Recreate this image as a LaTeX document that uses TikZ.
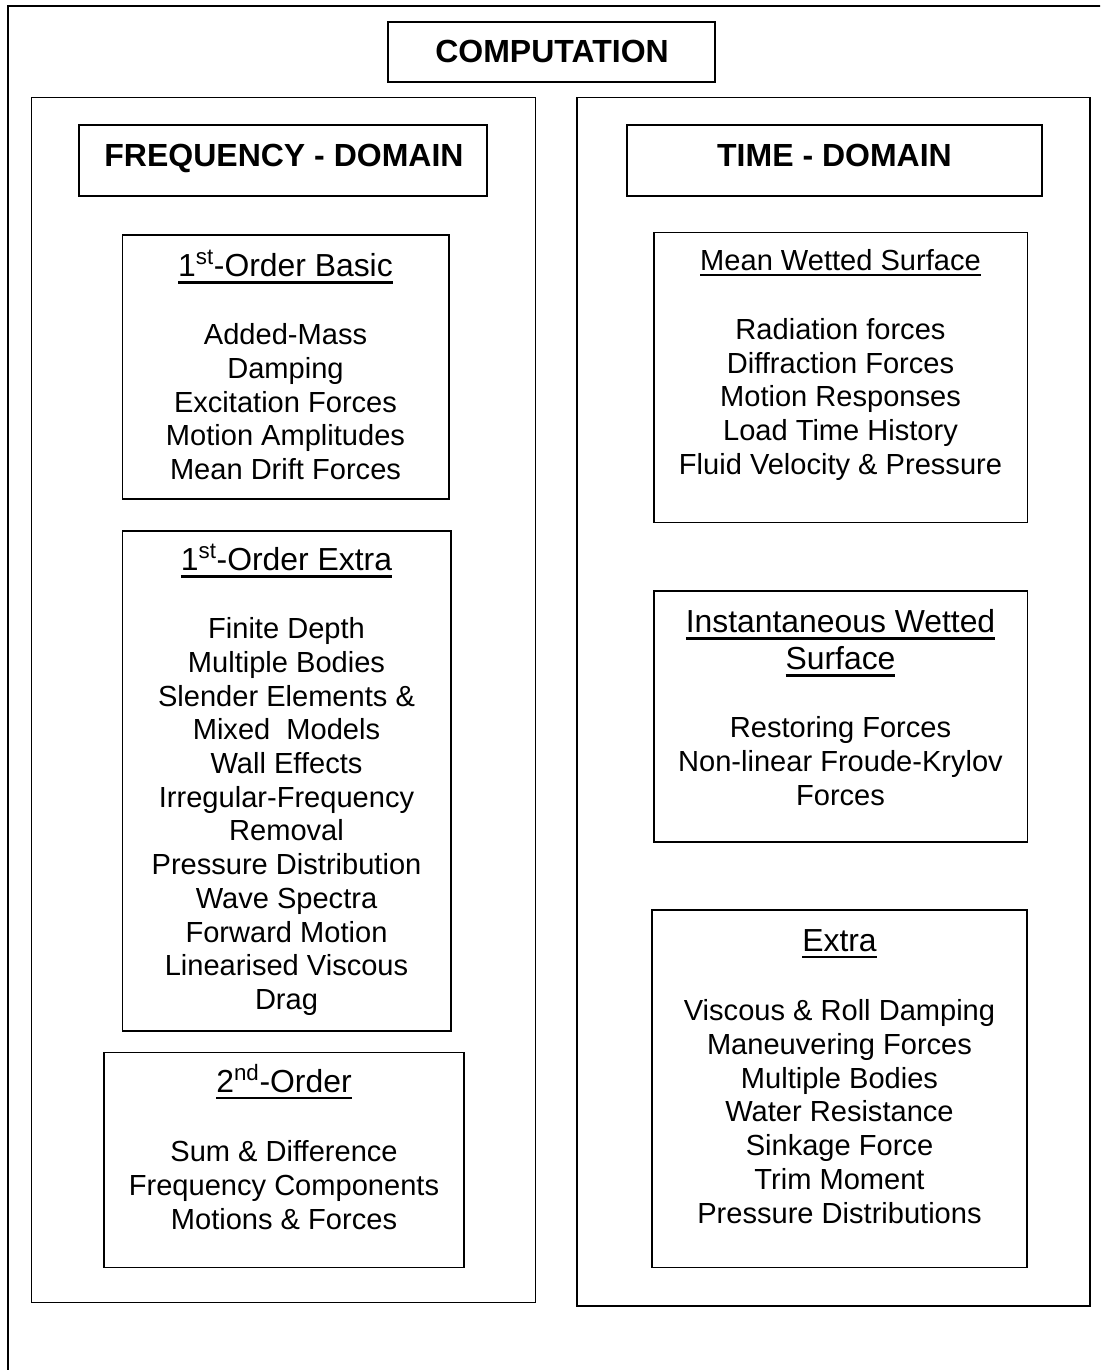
\documentclass[tikz,border=0pt]{standalone}
\usepackage{fontspec}
\setmainfont{Liberation Sans}
\usetikzlibrary{fit}
% underline drawn as a rule a little below the baseline
\newcommand{\undl}[1]{\setbox0\hbox{#1}\leavevmode\rlap{\rule[-0.22em]{\wd0}{0.075em}}\box0}
% fixes the height of the first line of a block
\newcommand{\tstrut}{\rule{0pt}{0.75em}}
\begin{document}
\begin{tikzpicture}[x=0.75pt,y=-0.75pt,
  frame/.style={draw=black,line width=1.4pt,inner sep=0pt},
  title/.style={font=\bfseries\fontsize{24}{27.6}\selectfont,inner sep=0pt,anchor=base},
  subhead/.style={font=\fontsize{23.9}{27.75}\selectfont,inner sep=0pt,anchor=base,align=center},
  subsmall/.style={font=\fontsize{21.8}{25.3}\selectfont,inner sep=0pt,anchor=base},
  body/.style={font=\fontsize{21.8}{25.3}\selectfont,inner sep=0pt,anchor=north,align=center}]
\useasboundingbox (0,0) rectangle (1100,1370);
\clip (0,0) rectangle (1100,1370);
\fill[white] (0,0) rectangle (1100,1370);

% frames
\node[frame,fit={(8.3,6.2) (1130,1400)}] (outer) {};
\node[frame,fit={(388.3,21.7) (715,81.7)}] (comp) {};
\node[frame,fit={(31.5,97.5) (535.5,1302.5)}] (leftcol) {};
\node[frame,fit={(576.8,97.5) (1090.3,1305.8)}] (rightcol) {};
\node[frame,fit={(79,125) (487,196)}] (freqbox) {};
\node[frame,fit={(627,125) (1042,196)}] (timebox) {};
\node[frame,fit={(122.5,235) (449,499)}] (basic) {};
\node[frame,fit={(122.5,531) (451,1031)}] (extra) {};
\node[frame,fit={(104.2,1052.5) (463.7,1267.5)}] (second) {};
\node[frame,fit={(654,232.5) (1027.5,522.5)}] (mean) {};
\node[frame,fit={(654,591) (1027.5,842)}] (inst) {};
\node[frame,fit={(652,910) (1026.8,1267.5)}] (xtra) {};

% titles
\node[title] (comptxt) at (552,63) {COMPUTATION};
\node[title] (freqtxt) at (284,166.5) {FREQUENCY - DOMAIN};
\node[title] (timetxt) at (834.5,166.5) {TIME - DOMAIN};

% frequency-domain blocks
\node[subhead] (basichd) at (285.5,276.7) {\undl{1\textsuperscript{st}-Order Basic}};
\node[body] (basicbd) at (285.5,322.7) {\tstrut Added-Mass\\Damping\\Excitation Forces\\Motion Amplitudes\\Mean Drift Forces};

\node[subhead] (extrahd) at (286.5,570.7) {\undl{1\textsuperscript{st}-Order Extra}};
\node[body] (extrabd) at (286.5,616.5) {\tstrut Finite Depth\\Multiple Bodies\\Slender Elements \&\\Mixed~ Models\\Wall Effects\\Irregular-Frequency\\Removal\\Pressure Distribution\\Wave Spectra\\Forward Motion\\Linearised Viscous\\Drag};

\node[subhead] (secondhd) at (284,1092.3) {\undl{2\textsuperscript{nd}-Order}};
\node[body] (secondbd) at (284,1139.9) {\tstrut Sum \& Difference\\Frequency Components\\Motions \& Forces};

% time-domain blocks
\node[subsmall] (meanhd) at (840.5,270) {\undl{Mean Wetted Surface}};
\node[body] (meanbd) at (840.5,317.2) {\tstrut Radiation forces\\Diffraction Forces\\Motion Responses\\Load Time History\\Fluid Velocity \& Pressure};

\node[subhead,anchor=north] (insthd) at (840.5,608.5) {\tstrut\undl{Instantaneous Wetted}\\\undl{Surface}};
\node[body] (instbd) at (840.5,715.6) {\tstrut Restoring Forces\\Non-linear Froude-Krylov\\Forces};

\node[subhead] (xtrahd) at (839.5,951.4) {\undl{Extra}};
\node[body] (xtrabd) at (839.5,998.6) {\tstrut Viscous \& Roll Damping\\Maneuvering Forces\\Multiple Bodies\\Water Resistance\\Sinkage Force\\Trim Moment\\Pressure Distributions};
\end{tikzpicture}
\end{document}
